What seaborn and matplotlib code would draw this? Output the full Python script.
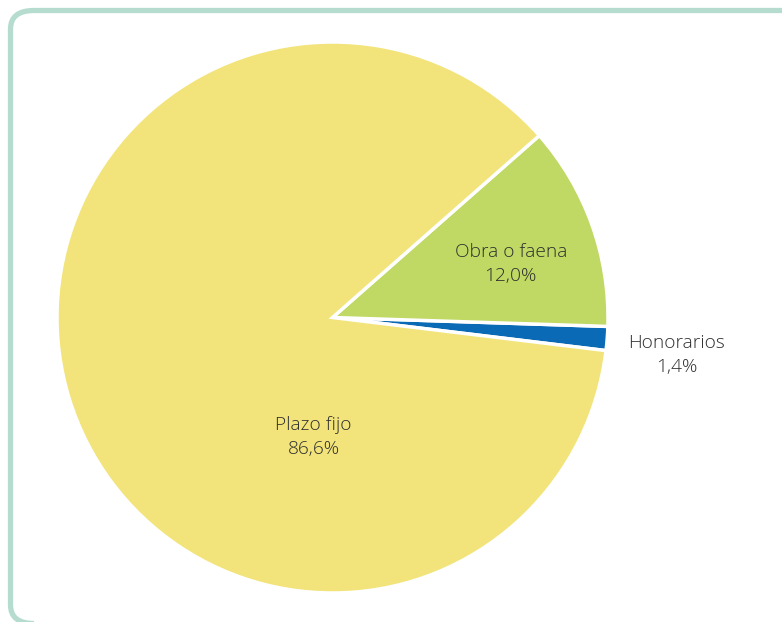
import matplotlib
matplotlib.use("Agg")
import matplotlib.pyplot as plt
import seaborn as sns
from matplotlib.patches import FancyBboxPatch

categories = ["Honorarios", "Obra o faena", "Plazo fijo"]
shares = [1.4, 12.0, 86.6]
pct_labels = ["1,4%", "12,0%", "86,6%"]
colors = ["#0a6ab6", "#bfd964", "#f2e47a"]

sns.set_theme(style="white")
plt.rcParams["font.family"] = ["Open Sans", "DejaVu Sans"]

fig = plt.figure(figsize=(7.82, 6.22), dpi=100)
W, H = 782, 622

# rounded frame (right and bottom edges run off the image)
frame = FancyBboxPatch((10.5 / W, -1.5 / H), (900 - 10.5) / W, (611.5 + 1.5) / H,
                       boxstyle="round,pad=0,rounding_size=0.03",
                       transform=fig.transFigure, facecolor="none",
                       edgecolor="#b5dccf", linewidth=3.8, clip_on=False)
fig.patches.append(frame)

ax = fig.add_axes([57 / W, (622 - 593) / H, 551 / W, 551 / H])
ax.pie(shares, colors=colors, startangle=-6.9, counterclock=True,
       wedgeprops=dict(edgecolor="white", linewidth=2.5))
ax.set_xlim(-1, 1)
ax.set_ylim(-1, 1)
ax.set_aspect("equal")
ax.axis("off")

label_pos = {"Honorarios": (1.25, -0.135), "Obra o faena": (0.647, 0.193), "Plazo fijo": (-0.069, -0.433)}
for cat, pct in zip(categories, pct_labels):
    x, y = label_pos[cat]
    ax.text(x, y, f"{cat}\n{pct}", ha="center", va="center", fontsize=13.8,
            color="#2e2e2e", fontweight="light", linespacing=1.45, clip_on=False)

fig.savefig("out.png", dpi=100)
